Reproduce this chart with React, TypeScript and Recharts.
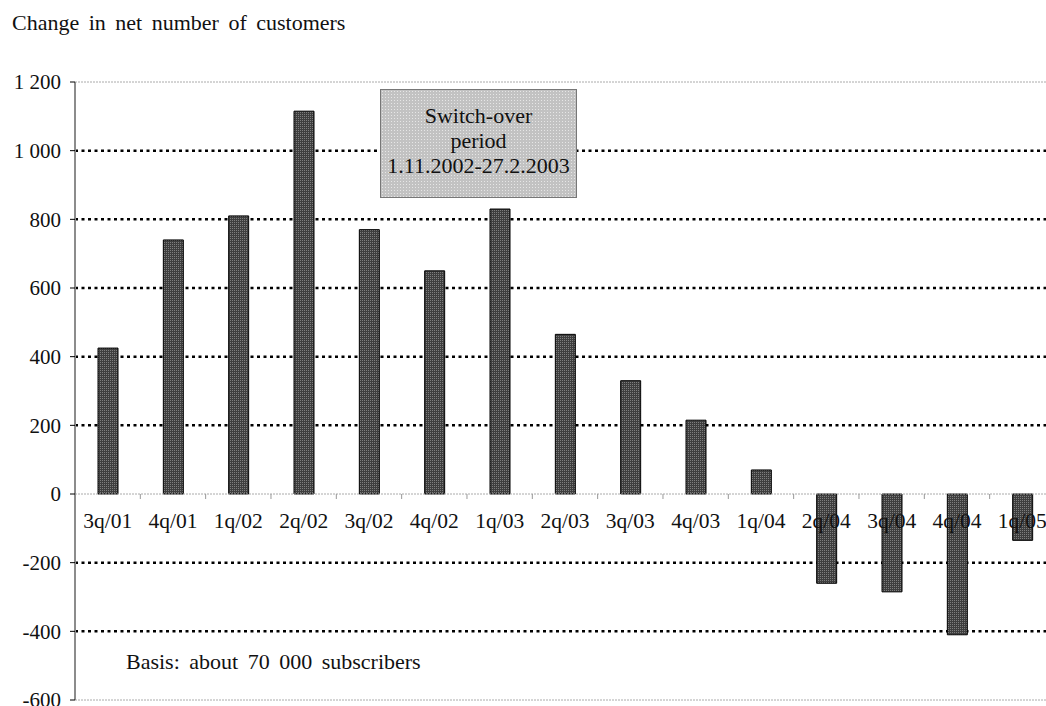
import { Bar, BarChart, CartesianGrid, ReferenceLine, XAxis, YAxis } from "recharts";

const quarters = [
  "3q/01", "4q/01", "1q/02", "2q/02", "3q/02", "4q/02", "1q/03", "2q/03",
  "3q/03", "4q/03", "1q/04", "2q/04", "3q/04", "4q/04", "1q/05",
];
const netChange = [425, 740, 810, 1115, 770, 650, 830, 465, 330, 215, 70, -260, -285, -410, -135];
const yTicks = [-600, -400, -200, 0, 200, 400, 600, 800, 1000, 1200];
const gridValues = [-400, -200, 200, 400, 600, 800, 1000];

const data = quarters.map((q, i) => ({ q, change: netChange[i] }));

const FONT = "'Liberation Serif', 'DejaVu Serif', serif";
const BAND = 65.3;
const ZERO_Y = 494;
const LABEL_Y = 528;

const fmt = (v: number) => {
  const s = Math.abs(v).toString();
  const body = s.length > 3 ? s.slice(0, -3) + " " + s.slice(-3) : s;
  return (v < 0 ? "-" : "") + body;
};

function QuarterTick(props: any) {
  const { x, payload } = props;
  return (
    <g>
      <line x1={x + BAND / 2} x2={x + BAND / 2} y1={ZERO_Y} y2={ZERO_Y + 5} stroke="#999" />
      <text x={x} y={LABEL_Y} textAnchor="middle" fontSize={21.5} fontFamily={FONT} fill="#111">
        {payload.value}
      </text>
    </g>
  );
}

export default function App() {
  return (
    <div
      style={{
        position: "absolute",
        left: 0,
        top: 0,
        width: 1046,
        height: 706,
        overflow: "hidden",
        background: "#fff",
        fontFamily: FONT,
      }}
    >
      <div style={{ position: "absolute", left: 12, top: 10, fontSize: 22, color: "#111", wordSpacing: 4 }}>
        Change in net number of customers
      </div>
      <BarChart width={1055} height={706} data={data} margin={{ top: 82, right: 0, bottom: 0, left: 0 }}>
        <defs>
          <pattern id="barPat" width="2" height="2" patternUnits="userSpaceOnUse">
            <rect width="2" height="2" fill="#3e3e3e" />
            <rect width="1" height="1" fill="#7e7e7e" />
          </pattern>
        </defs>
        <CartesianGrid
          vertical={false}
          horizontalValues={gridValues}
          stroke="#000"
          strokeWidth={2.5}
          strokeDasharray="3 3.5"
        />
        <ReferenceLine y={1200} stroke="#aaa" strokeDasharray="2 1" />
        <ReferenceLine y={0} stroke="#aaa" strokeDasharray="2 1" />
        <XAxis
          dataKey="q"
          interval={0}
          tickLine={false}
          tickSize={0}
          tickMargin={0}
          axisLine={{ stroke: "#aaa", strokeDasharray: "2 1" }}
          tick={<QuarterTick />}
          height={6}
        />
        <YAxis
          domain={[-600, 1200]}
          ticks={yTicks}
          interval={0}
          width={75}
          tickFormatter={fmt}
          tickSize={5}
          tickMargin={9}
          tick={{ fill: "#111", fontSize: 21, fontFamily: FONT }}
          axisLine={{ stroke: "#8c8c8c", strokeWidth: 2 }}
          tickLine={{ stroke: "#000" }}
        />
        <Bar dataKey="change" fill="url(#barPat)" stroke="#000" strokeWidth={1} barSize={20} isAnimationActive={false} />
      </BarChart>
      <div
        style={{
          position: "absolute",
          left: 380,
          top: 89,
          width: 197,
          height: 109,
          boxSizing: "border-box",
          border: "1.5px solid #777",
          background: "#c2c2c2",
          backgroundImage: "radial-gradient(#e6e6e6 0.6px, transparent 0.7px)",
          backgroundSize: "3px 3px",
          textAlign: "center",
          fontSize: 22,
          lineHeight: "25px",
          paddingTop: 13,
          color: "#111",
        }}
      >
        Switch-over
        <br />
        period
        <br />
        1.11.2002-27.2.2003
      </div>
      <div style={{ position: "absolute", left: 126, top: 649, fontSize: 22, color: "#111", wordSpacing: 4 }}>
        Basis: about 70 000 subscribers
      </div>
    </div>
  );
}
